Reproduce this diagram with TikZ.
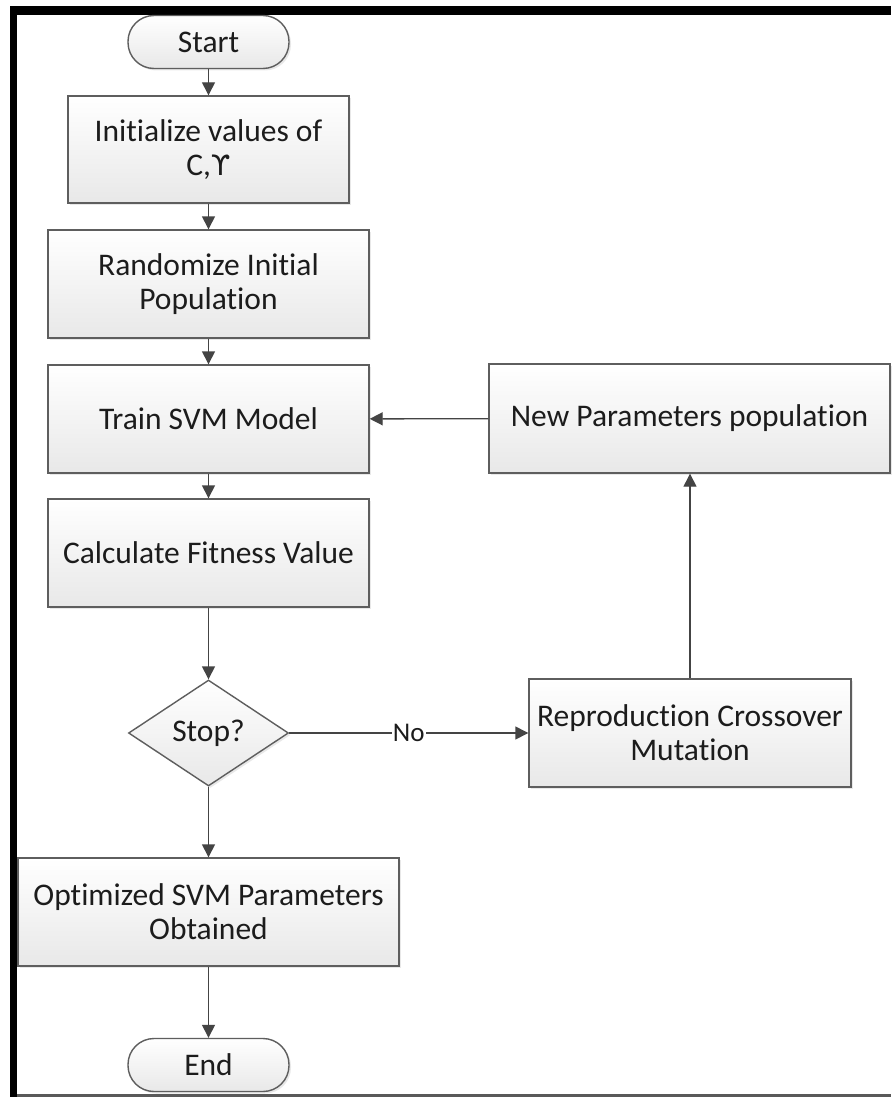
\documentclass[tikz,border=0pt]{standalone}
\usepackage{fontspec}
\setmainfont[Ligatures=NoCommon]{Carlito}
\newfontfamily\symfont{DejaVu Sans}
\usetikzlibrary{shapes.geometric,arrows.meta,shadows}

\definecolor{edgegray}{HTML}{5E5E5E}
\definecolor{arrowgray}{HTML}{444444}
\definecolor{inkblack}{HTML}{1C1C1C}

\begin{document}
\begin{tikzpicture}[x=1pt,y=-1pt,
  font=\fontsize{31.5}{34}\selectfont,
  shaded box/.style={draw=edgegray,line width=1.4pt,top color=white,bottom color=black!9,
    text=inkblack,inner sep=0pt,align=center,
    drop shadow={opacity=0.18,shadow xshift=2pt,shadow yshift=-2pt}},
  procbox/.style={shaded box,rectangle},
  termbox/.style={shaded box,rectangle,rounded corners=26pt,minimum width=161pt,minimum height=53pt},
  decisionbox/.style={shaded box,diamond,minimum width=160pt,minimum height=106pt},
  flow/.style={draw=arrowgray,line width=1.4pt,-{Triangle[width=13pt,length=13pt]}},
  edgelabel/.style={fill=white,inner sep=1pt,text=inkblack,font=\fontsize{27}{30}\selectfont}
]
  % page frame
  \useasboundingbox (0,0) rectangle (891,1097);
  \fill[white] (0,0) rectangle (891,1097);
  \fill[black] (10,6) rectangle (891,15);
  \fill[black] (10,6) rectangle (17,1097);
  \fill[black!65] (17,1094) rectangle (891,1097);

  % main column
  \node[termbox] (start) at (208.5,42) {Start};
  \node[procbox,minimum width=281pt,minimum height=107pt] (init) at (208.5,149.5)
    {Initialize values of\\C,{\symfont\fontsize{28}{34}\selectfont ϒ}};
  \node[procbox,minimum width=321pt,minimum height=108pt] (rand) at (208.5,284)
    {Randomize Initial\\Population};
  \node[procbox,minimum width=321pt,minimum height=108pt] (train) at (208.5,419)
    {Train SVM Model};
  \node[procbox,minimum width=321pt,minimum height=108pt] (calc) at (208.5,553)
    {Calculate Fitness Value};
  \node[decisionbox] (stop) at (208.5,733) {Stop?};
  \node[procbox,minimum width=381pt,minimum height=108pt] (opt) at (208.5,912)
    {Optimized SVM Parameters\\Obtained};
  \node[termbox] (end) at (208.5,1065) {End};

  % loop column
  \node[procbox,minimum width=322pt,minimum height=108pt] (repro) at (690,733)
    {Reproduction Crossover\\Mutation};
  \node[procbox,minimum width=401pt,minimum height=109pt] (newpop) at (689.5,418.5)
    {New Parameters population};

  % connectors
  \draw[flow] (start) -- (init);
  \draw[flow] (init) -- (rand);
  \draw[flow] (rand) -- (train);
  \draw[flow] (train) -- (calc);
  \draw[flow] (calc) -- (stop);
  \draw[flow] (stop) -- node[edgelabel] {No} (repro);
  \draw[flow] (repro.north) -- (repro.north |- newpop.south);
  \draw[flow] (newpop) -- (train);
  \draw[flow] (stop) -- (opt);
  \draw[flow] (opt) -- (end);
\end{tikzpicture}
\end{document}
